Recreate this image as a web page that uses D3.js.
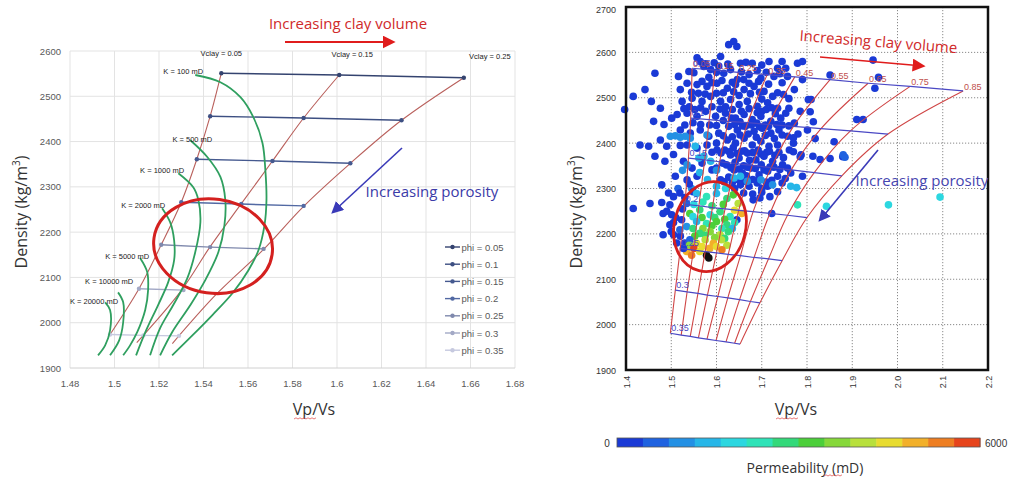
<!DOCTYPE html>
<html lang="en">
<head>
<meta charset="utf-8">
<title>Density vs Vp/Vs templates</title>
<script src="https://d3js.org/d3.v7.min.js"></script>
<style>
  body { margin: 0; background: #fff; }
  svg { display: block; }
  text { font-family: "Liberation Sans", Arial, sans-serif; }
  .big { font-family: "Open Sans", "Noto Sans", sans-serif; }
</style>
</head>
<body>
<script>
var width = 1012, height = 478;

// ---------- left panel data (rock physics template) ----------
var leftXTicks = [1.48, 1.5, 1.52, 1.54, 1.56, 1.58, 1.6, 1.62, 1.64, 1.66, 1.68];
var leftYTicks = [1900, 2000, 2100, 2200, 2300, 2400, 2500, 2600];

var phiNames = ["phi = 0.05", "phi = 0.1", "phi = 0.15", "phi = 0.2", "phi = 0.25", "phi = 0.3", "phi = 0.35"];
var phiColors = ["#34436f", "#3d4f82", "#45598f", "#5269a3", "#7f89ad", "#a3a9c6", "#c6c9df"];
var phiLines = [
  [[1.548, 2551], [1.601, 2547], [1.657, 2541]],
  [[1.543, 2456], [1.585, 2452], [1.629, 2447]],
  [[1.537, 2361], [1.571, 2357], [1.606, 2352]],
  [[1.530, 2266], [1.557, 2262], [1.585, 2258]],
  [[1.521, 2172], [1.543, 2167], [1.567, 2163]],
  [[1.511, 2075], [1.531, 2072]],
  [[1.498, 1974], [1.513, 1972], [1.529, 1971]]
];

var vclayNames = ["Vclay = 0.05", "Vclay = 0.15", "Vclay = 0.25"];
var vclayLines = [
  [[1.548, 2551], [1.543, 2456], [1.537, 2361], [1.530, 2266], [1.521, 2172], [1.511, 2075], [1.498, 1974]],
  [[1.601, 2547], [1.585, 2452], [1.571, 2357], [1.557, 2263], [1.543, 2168], [1.530, 2071], [1.510, 1956]],
  [[1.657, 2541], [1.629, 2447], [1.606, 2352], [1.585, 2257], [1.567, 2162], [1.546, 2064], [1.526, 1954]]
];

var permNames = ["K = 100 mD", "K = 500 mD", "K = 1000 mD", "K = 2000 mD", "K = 5000 mD", "K = 10000 mD", "K = 20000 mD"];
var permCurves = [
  [[1.5363, 2547], [1.5476, 2531], [1.5566, 2498], [1.5624, 2454], [1.5665, 2397], [1.5678, 2337], [1.5683, 2271],
   [1.5674, 2215], [1.5647, 2160], [1.5602, 2116], [1.5530, 2065], [1.5440, 2017], [1.5350, 1972], [1.5259, 1928]],
  [[1.5341, 2403], [1.5417, 2366], [1.5476, 2322], [1.5498, 2271], [1.5494, 2215], [1.5467, 2156], [1.5408, 2094],
   [1.5341, 2039], [1.5259, 1979], [1.5205, 1928]],
  [[1.5287, 2330], [1.5354, 2299], [1.5377, 2271], [1.5386, 2222], [1.5363, 2156], [1.5327, 2098], [1.5264, 2039],
   [1.5205, 1988], [1.5160, 1928]],
  [[1.5214, 2253], [1.5250, 2222], [1.5268, 2182], [1.5268, 2138], [1.5241, 2089], [1.5196, 2039], [1.5142, 1983], [1.5097, 1928]],
  [[1.5115, 2143], [1.5147, 2112], [1.5151, 2072], [1.5138, 2028], [1.5102, 1979], [1.5070, 1950], [1.5039, 1928]],
  [[1.5016, 2067], [1.5039, 2045], [1.5039, 2001], [1.5021, 1961], [1.4980, 1928]],
  [[1.4958, 2045], [1.4980, 2028], [1.4980, 1983], [1.4958, 1950], [1.4926, 1928]]
];
// label centres (Vp/Vs, density) for the K curves
var permLabelPos = [[1.5309, 2556], [1.5350, 2405], [1.5214, 2338], [1.5129, 2260], [1.5057, 2148], [1.4976, 2092], [1.4908, 2048]];

// ---------- right panel data (field data over template) ----------
var rightXTicks = [1.4, 1.5, 1.6, 1.7, 1.8, 1.9, 2.0, 2.1, 2.2];
var rightYTicks = [1900, 2000, 2100, 2200, 2300, 2400, 2500, 2600, 2700];
var gridVclay = ["0.05", "0.15", "0.25", "0.35", "0.45", "0.55", "0.65", "0.75", "0.85"];
var gridPhi = ["0.05", "0.1", "0.15", "0.2", "0.25", "0.3", "0.35"];
// template nodes: one row per porosity, one node per clay volume
var gridNodes = [
  [[1.546, 2565], [1.597, 2561], [1.648, 2556], [1.712, 2551], [1.773, 2546], [1.851, 2540], [1.935, 2532], [2.028, 2525], [2.145, 2515]],
  [[1.543, 2455], [1.584, 2452], [1.626, 2448], [1.669, 2445], [1.715, 2441], [1.770, 2437], [1.831, 2432], [1.896, 2427], [1.979, 2420]],
  [[1.538, 2367], [1.574, 2363], [1.607, 2359], [1.643, 2355], [1.679, 2351], [1.721, 2346], [1.765, 2341], [1.816, 2335], [1.877, 2328]],
  [[1.530, 2265], [1.561, 2262], [1.591, 2258], [1.619, 2255], [1.649, 2252], [1.681, 2249], [1.718, 2245], [1.757, 2241], [1.800, 2236]],
  [[1.520, 2168], [1.549, 2164], [1.575, 2161], [1.600, 2158], [1.626, 2155], [1.653, 2152], [1.683, 2148], [1.715, 2145], [1.745, 2141]],
  [[1.509, 2076], [1.535, 2072], [1.559, 2069], [1.580, 2065], [1.603, 2062], [1.625, 2059], [1.651, 2055], [1.675, 2051], [1.696, 2048]],
  [[1.498, 1981], [1.522, 1977], [1.542, 1974], [1.560, 1971], [1.579, 1968], [1.599, 1965], [1.621, 1962], [1.640, 1959], [1.652, 1957]]
];

// well log samples: [Vp/Vs, density, permeability mD]
var samplesTight = [
  [1.627,2617,150],[1.638,2624,150],[1.645,2613,150],
  [1.557,2588,150],[1.564,2580,150],[1.609,2591,150],[1.653,2576,150],[1.679,2576,150],[1.716,2580,150],[1.735,2565,150],
  [1.753,2565,150],[1.779,2576,150],[1.790,2580,150],[1.745,2580,150],[1.605,2570,150],[1.690,2560,150],
  [1.575,2575,150],[1.595,2577,150],[1.625,2574,150],[1.665,2578,150],[1.700,2572,150],
  [1.550,2555,150],[1.600,2556,150],[1.655,2557,150],[1.710,2556,150],[1.740,2553,150],
  [1.464,2554,150],[1.516,2547,150],[1.520,2518,150],[1.539,2558,150],[1.572,2569,150],[1.587,2562,150],[1.616,2554,150],
  [1.631,2562,150],[1.646,2540,150],[1.672,2551,150],[1.698,2543,150],[1.727,2547,150],[1.757,2547,150],[1.772,2518,150],
  [1.809,2496,150],[1.583,2545,150],[1.660,2540,150],[1.715,2530,150],[1.790,2540,150],
  [1.568,2536,150],[1.590,2533,150],[1.612,2538,150],[1.635,2534,150],[1.672,2532,150],[1.693,2536,150],[1.745,2533,150],
  [1.416,2503,150],[1.397,2474,150],[1.442,2518,150],[1.456,2492,150],[1.476,2477,150],[1.484,2441,150],[1.501,2455,150],
  [1.461,2448,150],[1.431,2396,150],[1.450,2393,150],[1.476,2407,150],[1.464,2371,150],[1.486,2360,150],[1.490,2393,150],
  [1.535,2532,150],[1.557,2529,150],[1.579,2525,150],[1.601,2532,150],[1.624,2521,150],[1.642,2529,150],[1.661,2518,150],
  [1.683,2525,150],[1.705,2514,150],[1.724,2503,150],[1.650,2505,150],[1.600,2510,150],[1.560,2510,150],[1.700,2497,150],
  [1.545,2512,150],[1.575,2508,150],[1.615,2511,150],[1.638,2513,150],[1.675,2509,150],[1.695,2512,150],[1.735,2511,150],
  [1.748,2507,150],
  [1.524,2492,150],[1.546,2499,150],[1.568,2492,150],[1.587,2503,150],[1.609,2492,150],[1.631,2496,150],[1.650,2485,150],
  [1.668,2492,150],[1.690,2481,150],[1.713,2489,150],[1.735,2477,150],[1.753,2466,150],[1.620,2480,150],[1.590,2480,150],
  [1.540,2480,150],[1.760,2498,150],[1.785,2470,150],[1.700,2470,150],[1.730,2465,150],
  [1.528,2476,150],[1.552,2474,150],[1.565,2478,150],[1.608,2475,150],[1.635,2474,150],[1.655,2470,150],[1.672,2476,150],
  [1.690,2467,150],[1.710,2474,150],[1.722,2478,150],[1.760,2477,150],
  [1.513,2463,150],[1.535,2466,150],[1.557,2459,150],[1.576,2470,150],[1.598,2459,150],[1.620,2466,150],[1.642,2455,150],
  [1.661,2463,150],[1.679,2452,150],[1.698,2459,150],[1.720,2448,150],[1.742,2455,150],[1.772,2444,150],[1.801,2429,150],
  [1.615,2450,150],[1.633,2455,150],[1.652,2447,150],[1.689,2444,150],[1.708,2440,150],[1.745,2440,150],[1.548,2445,150],
  [1.585,2440,150],[1.780,2420,150],
  [1.530,2440,150],[1.565,2441,150],[1.600,2439,150],[1.640,2441,150],[1.658,2438,150],[1.677,2440,150],[1.695,2436,150],
  [1.715,2437,150],[1.733,2441,150],[1.760,2438,150],
  [1.627,2437,150],[1.646,2429,150],[1.664,2437,150],[1.683,2426,150],[1.701,2433,150],[1.720,2422,150],[1.738,2429,150],
  [1.757,2415,150],[1.670,2420,150],[1.728,2410,150],
  [1.615,2416,150],[1.635,2414,150],[1.652,2418,150],[1.688,2413,150],[1.708,2417,150],[1.745,2418,150],[1.770,2412,150],
  [1.624,2407,150],[1.642,2400,150],[1.661,2411,150],[1.679,2396,150],[1.698,2404,150],[1.716,2393,150],[1.735,2396,150],
  [1.761,2385,150],[1.787,2374,150],[1.813,2371,150],[1.600,2400,150],[1.770,2400,150],
  [1.618,2385,150],[1.637,2390,150],[1.655,2382,150],[1.692,2385,150],[1.711,2380,150],[1.729,2373,150],[1.748,2368,150],
  [1.590,2380,150],[1.610,2378,150],[1.628,2381,150],[1.645,2377,150],[1.662,2383,150],[1.680,2379,150],[1.698,2376,150],
  [1.717,2382,150],[1.738,2380,150],[1.770,2381,150],
  [1.631,2374,150],[1.650,2367,150],[1.668,2378,150],[1.687,2363,150],[1.705,2371,150],[1.724,2360,150],[1.746,2352,150],
  [1.673,2362,150],
  [1.622,2352,150],[1.641,2358,150],[1.660,2350,150],[1.699,2352,150],[1.718,2347,150],[1.740,2342,150],
  [1.600,2345,150],[1.632,2346,150],[1.650,2343,150],[1.668,2347,150],[1.686,2344,150],[1.705,2341,150],[1.727,2347,150],
  [1.757,2345,150],
  [1.639,2341,150],[1.657,2334,150],[1.676,2345,150],[1.694,2330,150],[1.713,2338,150],[1.735,2327,150],[1.764,2334,150],
  [1.790,2327,150],[1.680,2320,150],[1.722,2318,150],[1.752,2322,150],[1.627,2325,150],[1.646,2320,150],[1.666,2328,150],
  [1.617,2315,150],[1.635,2313,150],[1.660,2316,150],[1.690,2317,150],[1.710,2314,150],[1.745,2312,150],
  [1.653,2308,150],[1.672,2305,150],[1.690,2312,150],[1.713,2305,150],[1.735,2293,150],[1.700,2300,150],
  [1.520,2429,150],[1.542,2422,150],[1.564,2429,150],[1.583,2415,150],[1.605,2422,150],
  [1.535,2396,150],[1.557,2389,150],[1.579,2396,150],[1.601,2385,150],[1.520,2395,150],[1.505,2375,150],
  [1.527,2360,150],[1.546,2345,150],[1.568,2356,150],[1.590,2341,150],[1.613,2356,150],
  [1.509,2327,150],[1.535,2319,150],[1.557,2327,150],[1.609,2319,150],[1.479,2308,150],[1.494,2290,150],
  [1.860,2403,150],[1.851,2366,150],[1.829,2364,150],[1.814,2447,150],[1.807,2469,150],[1.818,2410,150],[1.803,2496,150],
  [1.910,2452,150],[1.924,2452,150],[1.851,2550,150],[1.958,2545,150],[1.950,2521,150],[1.946,2583,150],[1.785,2370,150],
  [1.879,2370,150]
];

var samplesMid = [
  [1.498,2415,1000],[1.509,2416,1000],[1.520,2413,950],[1.531,2415,1000],[1.542,2411,1100],[1.579,2418,900],
  [1.553,2393,1400],[1.561,2367,1600],[1.572,2371,1300],[1.587,2360,1500],[1.535,2352,1200],[1.639,2323,1400],
  [1.653,2327,1600],[1.668,2316,1200],[1.698,2319,1000],[1.724,2308,900],[1.764,2305,1500],[1.777,2302,1500],
  [1.880,2374,700],[1.884,2369,700],[1.563,2335,1500],[1.580,2320,1700],[1.600,2305,1300],[1.545,2300,1200],
  [1.620,2300,1800],[1.600,2340,1100],[1.525,2340,900],[1.515,2300,800],
  [1.779,2264,2200],[1.843,2261,2100],[1.980,2264,2000],[2.094,2281,1900]
];

var samplesReservoir = [
  [1.490,2250,200],[1.510,2236,150],[1.525,2255,200],[1.505,2225,150],[1.520,2195,150],[1.530,2180,400],[1.512,2180,150],
  [1.500,2205,150],[1.416,2256,150],[1.453,2267,150],[1.479,2269,150],[1.505,2282,150],[1.497,2264,150],[1.482,2245,150],
  [1.501,2242,150],[1.497,2220,150],[1.482,2198,150],[1.505,2198,150],[1.519,2290,150],[1.548,2293,150],[1.681,2275,150],
  [1.696,2279,150],[1.718,2282,150],[1.722,2245,150],[1.645,2231,150],[1.660,2290,200],[1.680,2288,200],[1.700,2292,150],
  [1.640,2300,200],[1.540,2310,200],[1.530,2280,300],
  [1.556,2289,1500],[1.578,2282,2400],[1.600,2289,1700],[1.623,2278,2600],[1.637,2286,3200],[1.648,2267,3900],[1.534,2267,500],
  [1.550,2265,2000],[1.570,2270,2200],[1.590,2262,2900],[1.615,2265,3100],[1.640,2252,4300],[1.656,2245,4800],
  [1.541,2245,3400],[1.563,2253,2600],[1.586,2242,1800],[1.608,2249,2800],[1.630,2238,2500],
  [1.548,2238,2100],[1.568,2236,3000],[1.596,2236,2700],[1.618,2232,3400],[1.640,2225,2300],
  [1.556,2227,1700],[1.578,2223,2300],[1.600,2227,3300],[1.623,2220,2700],[1.534,2216,1200],[1.523,2231,400],[1.519,2209,600],
  [1.548,2212,2800],[1.570,2212,3800],[1.590,2218,3100],[1.612,2212,2400],[1.635,2212,1600],
  [1.563,2201,2900],[1.586,2205,3600],[1.608,2198,4000],[1.626,2205,2600],
  [1.552,2195,3200],[1.575,2197,2700],[1.596,2192,3500],[1.618,2190,2900],
  [1.541,2187,700],[1.556,2179,4600],[1.575,2187,4100],[1.593,2179,4800],[1.611,2187,4200],[1.623,2175,3900],
  [1.540,2175,3800],[1.568,2172,4400],[1.585,2168,5000],[1.600,2172,4600],[1.612,2165,5300],[1.550,2168,5600],
  [1.534,2161,4900],[1.545,2153,5200],[1.563,2161,4300],[1.527,2168,300],
  [1.578,2153,7000],[1.583,2147,7000]
];

var permColors = ["#1a3ad6", "#1f62e0", "#2390e4", "#26b6e8", "#2cd7e0", "#2fe3b8", "#33d97a",
                  "#4ccf3a", "#86d83a", "#b8e03c", "#e8dc30", "#f2b02a", "#ee7e22", "#e6441c"];
var permDomain = [0, 6000];

// ---------- drawing ----------
var svg = d3.select("body").append("svg").attr("width", width).attr("height", height);

var xL = d3.scaleLinear().domain([1.48, 1.68]).range([70, 515]);
var yL = d3.scaleLinear().domain([1900, 2600]).range([368, 51]);
var xR = d3.scaleLinear().domain([1.4, 2.2]).range([626, 988]);
var yR = d3.scaleLinear().domain([1900, 2700]).range([370, 7]);

var defs = svg.append("defs");
function arrowMarker(id, color, size) {
  defs.append("marker").attr("id", id)
    .attr("viewBox", "0 0 10 10").attr("refX", 8).attr("refY", 5)
    .attr("markerWidth", size).attr("markerHeight", size)
    .attr("markerUnits", "userSpaceOnUse").attr("orient", "auto")
    .append("path").attr("d", "M0,0 L10,5 L0,10 z").attr("fill", color);
}
arrowMarker("redHead", "#e01c1c", 13);
arrowMarker("blueHead", "#3a3ab8", 12);

// red spell-check squiggle under a word
function squiggle(g, x0, x1, y) {
  var d = "M" + x0 + "," + y;
  for (var x = x0, up = true; x < x1; x += 2, up = !up) d += " L" + (x + 2) + "," + (up ? y - 1.2 : y);
  g.append("path").attr("d", d).attr("fill", "none").attr("stroke", "#e04040").attr("stroke-width", 0.7);
}

// ===== LEFT PANEL =====
var gl = svg.append("g");

gl.selectAll(".vgrid").data(leftXTicks).enter().append("line")
  .attr("x1", d => xL(d)).attr("x2", d => xL(d)).attr("y1", yL(2600)).attr("y2", yL(1900))
  .attr("stroke", "#e3e3e3").attr("stroke-width", 1);
gl.selectAll(".hgrid").data(leftYTicks).enter().append("line")
  .attr("x1", xL(1.48)).attr("x2", xL(1.68)).attr("y1", d => yL(d)).attr("y2", d => yL(d))
  .attr("stroke", d => d === 1900 ? "#d0d0d0" : "#e3e3e3").attr("stroke-width", 1);

gl.selectAll(".xlab").data(leftXTicks).enter().append("text")
  .attr("x", d => xL(d)).attr("y", 387).attr("text-anchor", "middle")
  .attr("font-size", 9.5).attr("fill", "#595959").text(d => d3.format("~g")(d));
gl.selectAll(".ylab").data(leftYTicks).enter().append("text")
  .attr("x", 61).attr("y", d => yL(d) + 3.5).attr("text-anchor", "end")
  .attr("font-size", 9.5).attr("fill", "#595959").text(d => d);

var lineL = d3.line().x(d => xL(d[0])).y(d => yL(d[1]));
var curveL = d3.line().x(d => xL(d[0])).y(d => yL(d[1])).curve(d3.curveCatmullRom);

// Vclay lines
gl.selectAll(".vclay").data(vclayLines).enter().append("path")
  .attr("d", curveL).attr("fill", "none").attr("stroke", "#b9605c").attr("stroke-width", 1.1);

// porosity lines with markers
phiLines.forEach(function(pts, i) {
  gl.append("path").attr("d", lineL(pts)).attr("fill", "none")
    .attr("stroke", phiColors[i]).attr("stroke-width", 1.4);
  gl.selectAll(".m" + i).data(pts).enter().append("circle")
    .attr("cx", d => xL(d[0])).attr("cy", d => yL(d[1])).attr("r", 2.2).attr("fill", phiColors[i]);
});

// permeability curves
gl.selectAll(".perm").data(permCurves).enter().append("path")
  .attr("d", curveL).attr("fill", "none").attr("stroke", "#2f9f5f").attr("stroke-width", 1.8);

gl.selectAll(".permlab").data(permNames).enter().append("text")
  .attr("x", (d, i) => xL(permLabelPos[i][0])).attr("y", (d, i) => yL(permLabelPos[i][1]) + 3)
  .attr("text-anchor", "middle").attr("font-size", 7.5).attr("fill", "#222").text(d => d);

gl.selectAll(".vclab").data(vclayNames).enter().append("text")
  .attr("x", (d, i) => xL(vclayLines[i][0][0]) + [0, 13, 26][i]).attr("y", (d, i) => [56, 57, 59][i])
  .attr("text-anchor", "middle").attr("font-size", 7.5).attr("fill", "#222").text(d => d);

// red ellipse
gl.append("ellipse")
  .attr("transform", "translate(" + xL(1.5443) + "," + yL(2169) + ") rotate(8)")
  .attr("rx", xL(1.5443 + 0.0268) - xL(1.5443)).attr("ry", yL(2169) - yL(2273))
  .attr("fill", "none").attr("stroke", "#d4201f").attr("stroke-width", 3);

// legend
var lg = gl.selectAll(".leg").data(phiNames).enter().append("g")
  .attr("transform", (d, i) => "translate(445," + (247 + i * 17.2) + ")");
lg.append("line").attr("x1", 0).attr("x2", 15).attr("stroke", (d, i) => phiColors[i]).attr("stroke-width", 1.4);
lg.append("circle").attr("cx", 7.5).attr("r", 2.2).attr("fill", (d, i) => phiColors[i]);
lg.append("text").attr("x", 16.5).attr("y", 3.5).attr("font-size", 9.5).attr("fill", "#595959").text(d => d);

// annotations
gl.append("text").attr("class", "big").attr("x", 348).attr("y", 29).attr("text-anchor", "middle")
  .attr("font-size", 15).attr("fill", "#d02a2a").text("Increasing clay volume");
gl.append("line").attr("x1", 285).attr("y1", 42).attr("x2", 393).attr("y2", 42)
  .attr("stroke", "#e01c1c").attr("stroke-width", 2.2).attr("marker-end", "url(#redHead)");
gl.append("text").attr("class", "big").attr("x", 432).attr("y", 197).attr("text-anchor", "middle")
  .attr("font-size", 15).attr("fill", "#3b3ba8").text("Increasing porosity");
gl.append("line").attr("x1", 402).attr("y1", 148).attr("x2", 333).attr("y2", 212)
  .attr("stroke", "#3a3ab8").attr("stroke-width", 1.6).attr("marker-end", "url(#blueHead)");

gl.append("text").attr("class", "big").attr("transform", "translate(27,212) rotate(-90)")
  .attr("text-anchor", "middle").attr("font-size", 16).attr("fill", "#333")
  .html("Density (kg/m<tspan baseline-shift='super' font-size='10'>3</tspan>)");
gl.append("text").attr("class", "big").attr("x", 314).attr("y", 415).attr("text-anchor", "middle")
  .attr("font-size", 16).attr("fill", "#333").text("Vp/Vs");
squiggle(gl, 294, 315, 419);

// ===== RIGHT PANEL =====
var gr = svg.append("g");

gr.selectAll(".vgrid").data(rightXTicks).enter().append("line")
  .attr("x1", d => xR(d)).attr("x2", d => xR(d)).attr("y1", yR(2700)).attr("y2", yR(1900))
  .attr("stroke", "#8a8a8a").attr("stroke-width", 1).attr("stroke-dasharray", "1.2,1.8");
gr.selectAll(".hgrid").data(rightYTicks).enter().append("line")
  .attr("x1", xR(1.4)).attr("x2", xR(2.2)).attr("y1", d => yR(d)).attr("y2", d => yR(d))
  .attr("stroke", "#8a8a8a").attr("stroke-width", 1).attr("stroke-dasharray", "1.2,1.8");

var colorPerm = d3.scaleQuantize().domain(permDomain).range(permColors);
function dotColor(k) { return k > permDomain[1] ? "#111" : colorPerm(k); }

var allSamples = samplesTight.concat(samplesMid, samplesReservoir);
gr.selectAll(".dot").data(allSamples).enter().append("circle")
  .attr("cx", d => xR(d[0])).attr("cy", d => yR(d[1])).attr("r", 3.8)
  .attr("fill", d => dotColor(d[2]));

var curveR = d3.line().x(d => xR(d[0])).y(d => yR(d[1])).curve(d3.curveCatmullRom);
var lineR = d3.line().x(d => xR(d[0])).y(d => yR(d[1]));

// clay volume curves (columns of the node grid)
var vclayCurves = gridVclay.map((v, j) => gridNodes.map(row => row[j]));
gr.selectAll(".rc").data(vclayCurves).enter().append("path")
  .attr("d", curveR).attr("fill", "none").attr("stroke", "#cf4545").attr("stroke-width", 1.1);
gr.selectAll(".rp").data(gridNodes).enter().append("path")
  .attr("d", lineR).attr("fill", "none").attr("stroke", "#4a48c4").attr("stroke-width", 1.2);

gr.selectAll(".rclab").data(gridVclay).enter().append("text")
  .attr("x", (d, j) => xR(gridNodes[0][j][0]) + 1).attr("y", (d, j) => yR(gridNodes[0][j][1]) - 1)
  .attr("font-size", 9).attr("fill", "#c0504d").text(d => d);
gr.selectAll(".rplab").data(gridPhi).enter().append("text")
  .attr("x", (d, i) => xR(gridNodes[i][0][0]) + 1).attr("y", (d, i) => yR(gridNodes[i][0][1]) - 2)
  .attr("font-size", 9).attr("fill", "#4a48c4").text(d => d);

gr.append("ellipse")
  .attr("transform", "translate(" + xR(1.5855) + "," + yR(2216) + ") rotate(14)")
  .attr("rx", xR(1.5855 + 0.079) - xR(1.5855)).attr("ry", yR(2216) - yR(2316))
  .attr("fill", "none").attr("stroke", "#d4201f").attr("stroke-width", 2.8);

gr.append("rect").attr("x", xR(1.4)).attr("y", yR(2700)).attr("width", xR(2.2) - xR(1.4))
  .attr("height", yR(1900) - yR(2700)).attr("fill", "none").attr("stroke", "#111").attr("stroke-width", 2.5);

gr.selectAll(".xlab").data(rightXTicks).enter().append("text")
  .attr("transform", d => "translate(" + (xR(d) + 3.5) + ",382) rotate(-90)")
  .attr("text-anchor", "middle").attr("font-size", 9).attr("fill", "#333").text(d => d3.format(".1f")(d));
gr.selectAll(".ylab").data(rightYTicks).enter().append("text")
  .attr("x", 616).attr("y", d => Math.max(yR(d), 9) + 3.5).attr("text-anchor", "end")
  .attr("font-size", 9).attr("fill", "#333").text(d => d);

// annotations
gr.append("text").attr("class", "big").attr("transform", "translate(878,47) rotate(4.5)")
  .attr("text-anchor", "middle").attr("font-size", 15).attr("fill", "#d02a2a").text("Increasing clay volume");
gr.append("line").attr("x1", 820).attr("y1", 57).attr("x2", 923).attr("y2", 66)
  .attr("stroke", "#e01c1c").attr("stroke-width", 1.6).attr("marker-end", "url(#redHead)");
gr.append("text").attr("class", "big").attr("x", 922).attr("y", 186).attr("text-anchor", "middle")
  .attr("font-size", 15).attr("fill", "#4646b0").text("Increasing porosity");
gr.append("line").attr("x1", 878).attr("y1", 150).attr("x2", 820).attr("y2", 220)
  .attr("stroke", "#3a3ab8").attr("stroke-width", 1.6).attr("marker-end", "url(#blueHead)");

gr.append("text").attr("class", "big").attr("transform", "translate(582,212) rotate(-90)")
  .attr("text-anchor", "middle").attr("font-size", 16).attr("fill", "#333")
  .html("Density (kg/m<tspan baseline-shift='super' font-size='10'>3</tspan>)");
gr.append("text").attr("class", "big").attr("x", 796).attr("y", 415).attr("text-anchor", "middle")
  .attr("font-size", 16).attr("fill", "#333").text("Vp/Vs");
squiggle(gr, 776, 797, 419);

// colour bar
var cbX = d3.scaleLinear().domain(permDomain).range([617, 980]);
var step = (permDomain[1] - permDomain[0]) / permColors.length;
gr.selectAll(".cb").data(permColors).enter().append("rect")
  .attr("x", (d, i) => cbX(i * step)).attr("y", 438)
  .attr("width", (d, i) => cbX((i + 1) * step) - cbX(i * step) + 0.5).attr("height", 9)
  .attr("fill", d => d);
gr.append("rect").attr("x", 617).attr("y", 438).attr("width", 363).attr("height", 9)
  .attr("fill", "none").attr("stroke", "#555").attr("stroke-width", 0.8);
gr.append("text").attr("x", 607).attr("y", 447).attr("text-anchor", "middle")
  .attr("font-size", 10).attr("fill", "#333").text(permDomain[0]);
gr.append("text").attr("x", 985).attr("y", 447)
  .attr("font-size", 10).attr("fill", "#333").text(permDomain[1]);
gr.append("text").attr("class", "big").attr("x", 805).attr("y", 473).attr("text-anchor", "middle")
  .attr("font-size", 14).attr("fill", "#333").text("Permeability (mD)");
squiggle(gr, 824, 841, 476);
</script>
</body>
</html>
